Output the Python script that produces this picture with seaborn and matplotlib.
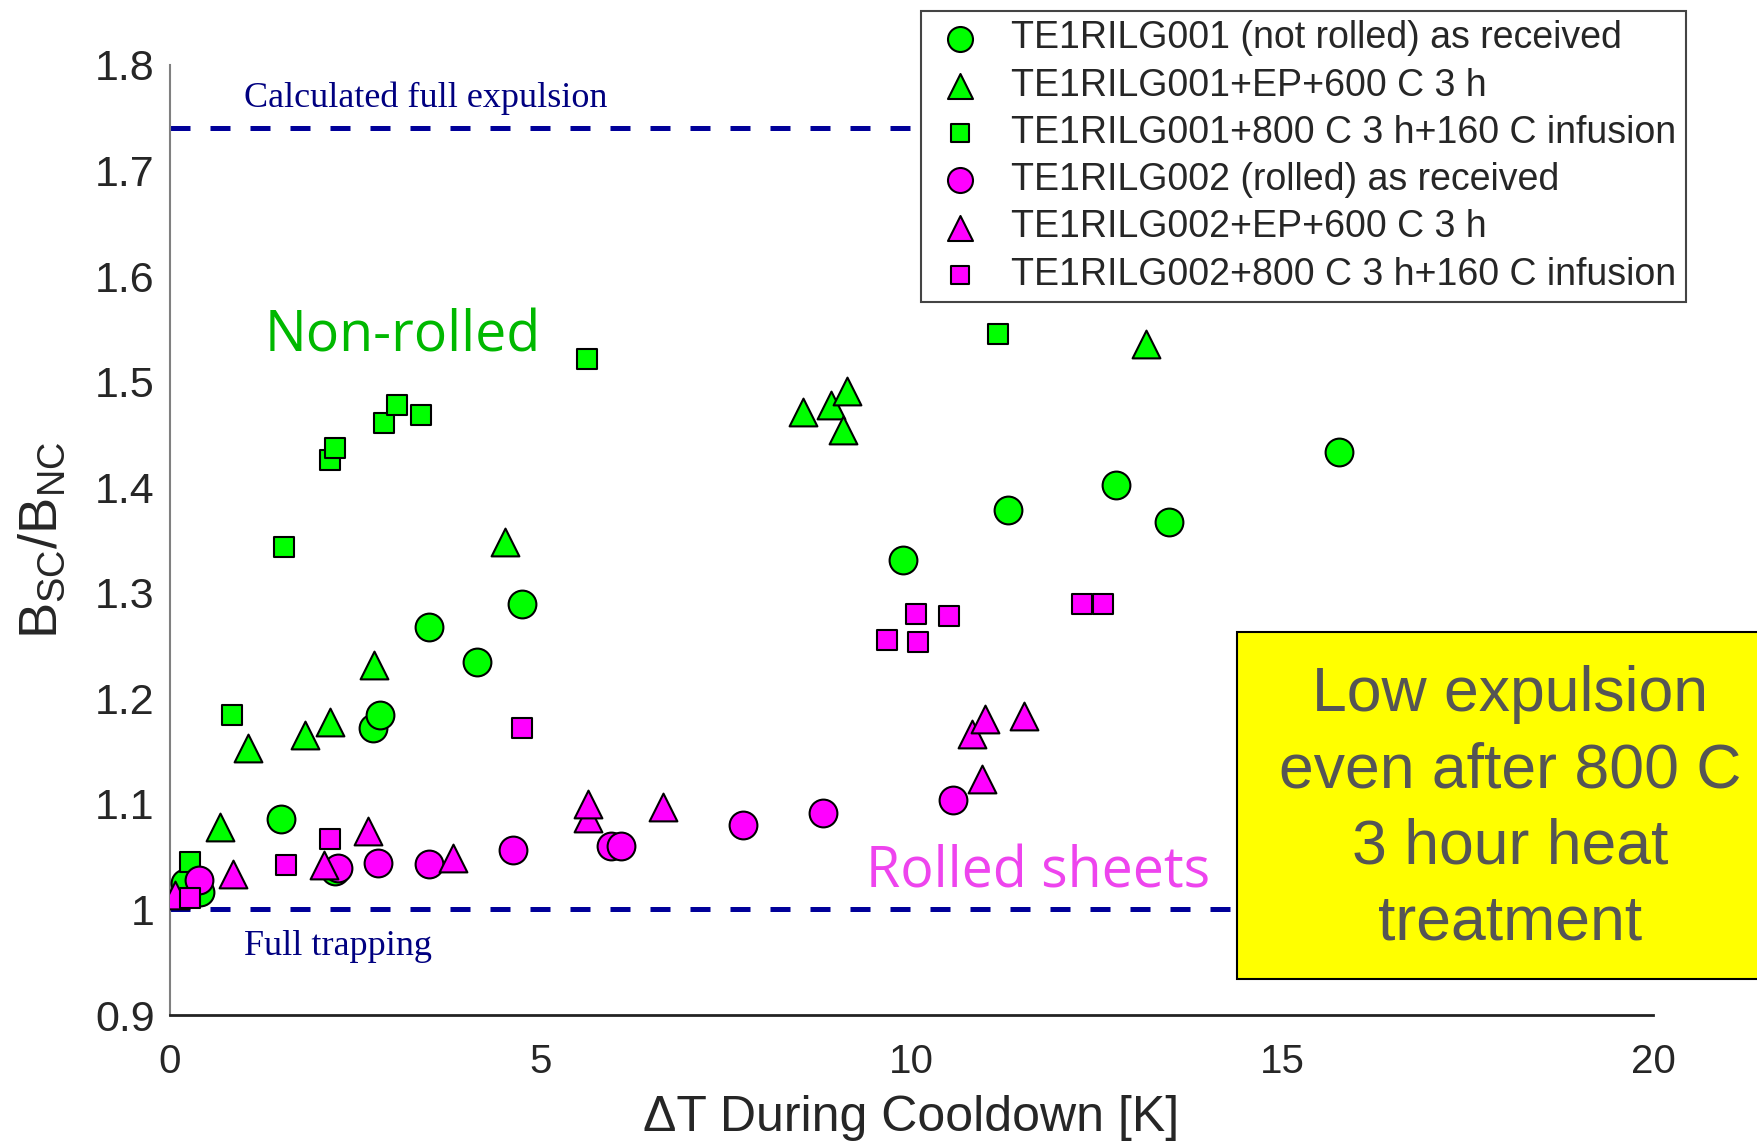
import matplotlib
matplotlib.use("Agg")
import matplotlib.pyplot as plt
import seaborn as sns
from matplotlib.patches import Rectangle

# --- data (dT [K], Bsc/Bnc) ---
g1_asrec_x = [0.2, 0.4, 1.49, 2.23, 2.73, 2.83, 3.49, 4.14, 4.74, 9.89, 11.3, 12.76, 13.47, 15.76]
g1_asrec_y = [1.025, 1.017, 1.086, 1.036, 1.172, 1.184, 1.268, 1.234, 1.289, 1.331, 1.378, 1.402, 1.367, 1.433]

g1_ep_x = [0.67, 1.05, 1.82, 2.16, 2.75, 4.52, 8.54, 8.91, 9.13, 9.08, 13.16]
g1_ep_y = [1.078, 1.153, 1.165, 1.178, 1.232, 1.348, 1.471, 1.478, 1.491, 1.454, 1.536]

g1_800_x = [0.27, 0.84, 1.53, 2.16, 2.23, 2.88, 3.06, 3.39, 5.62, 11.16]
g1_800_y = [1.045, 1.184, 1.343, 1.426, 1.437, 1.461, 1.478, 1.468, 1.521, 1.545]

g2_asrec_x = [0.39, 2.26, 2.80, 3.49, 4.62, 5.95, 6.08, 7.73, 8.80, 10.56]
g2_asrec_y = [1.028, 1.039, 1.044, 1.043, 1.056, 1.060, 1.060, 1.080, 1.091, 1.104]

g2_ep_x = [0.07, 0.855, 2.08, 2.67, 3.82, 5.63, 5.63, 6.65, 10.82, 10.99, 11.52, 10.95]
g2_ep_y = [1.014, 1.034, 1.042, 1.074, 1.049, 1.087, 1.100, 1.097, 1.166, 1.180, 1.183, 1.124]

g2_800_x = [0.27, 1.56, 2.16, 4.74, 9.67, 10.06, 10.08, 10.5, 12.30, 12.58]
g2_800_y = [1.011, 1.042, 1.067, 1.172, 1.255, 1.280, 1.253, 1.278, 1.289, 1.289]

labels = [
    "TE1RILG001 (not rolled) as received",
    "TE1RILG001+EP+600 C 3 h",
    "TE1RILG001+800 C 3 h+160 C infusion",
    "TE1RILG002 (rolled) as received",
    "TE1RILG002+EP+600 C 3 h",
    "TE1RILG002+800 C 3 h+160 C infusion",
]

yticks = [0.9, 1.0, 1.1, 1.2, 1.3, 1.4, 1.5, 1.6, 1.7, 1.8]
ytick_labels = ["0.9", "1", "1.1", "1.2", "1.3", "1.4", "1.5", "1.6", "1.7", "1.8"]
xticks = [0, 5, 10, 15, 20]

full_expulsion = 1.74
full_trapping = 1.0

# --- style ---
sns.set_style("white")
plt.rcParams["font.family"] = ["Liberation Sans", "DejaVu Sans"]
plt.rcParams["mathtext.default"] = "regular"

fig = plt.figure(figsize=(17.57, 11.42), dpi=100)
ax = fig.add_axes([0.0968, 0.1112, 0.8441, 0.8319])

green = "#00FF00"
magenta = "#FF00FF"
series = [
    (g1_asrec_x, g1_asrec_y, green, "o", 400),
    (g1_ep_x, g1_ep_y, green, "^", 400),
    (g1_800_x, g1_800_y, green, "s", 220),
    (g2_asrec_x, g2_asrec_y, magenta, "o", 400),
    (g2_ep_x, g2_ep_y, magenta, "^", 400),
    (g2_800_x, g2_800_y, magenta, "s", 220),
]

# dashed reference lines
ax.axhline(full_expulsion, color="#000099", lw=3.6, ls=(0, (4, 4)), zorder=1)
ax.axhline(full_trapping, color="#000099", lw=3.6, ls=(0, (4, 4)), zorder=1)

for (xs, ys, col, mk, sz), lab in zip(series, labels):
    sns.scatterplot(x=xs, y=ys, ax=ax, color=col, marker=mk, s=sz,
                    edgecolor="black", linewidth=1.5, label=lab, zorder=3)

ax.set_xlim(0, 20)
ax.set_ylim(0.9, 1.8)
ax.set_xticks(xticks)
ax.set_xticklabels([str(t) for t in xticks])
ax.set_yticks(yticks)
ax.set_yticklabels(ytick_labels)
ax.tick_params(axis="both", direction="in", length=13, width=1.2, colors="#555555",
               labelcolor="#262626")
ax.tick_params(axis="y", pad=11, labelsize=31)
ax.tick_params(axis="x", pad=20, labelsize=29)

for side in ["top", "right"]:
    ax.spines[side].set_visible(False)
ax.spines["left"].set_color("#808080")
ax.spines["left"].set_linewidth(1.5)
ax.spines["bottom"].set_color("#222222")
ax.spines["bottom"].set_linewidth(2)

ax.set_xlabel("ΔT During Cooldown [K]", fontsize=36, color="#262626", labelpad=10)
ax.set_ylabel(r"$B_{SC}/B_{NC}$", fontsize=39, color="#262626", labelpad=20)

# annotations
ax.text(244 / 1757, 1 - 107 / 1142, "Calculated full expulsion", transform=fig.transFigure,
        family="Liberation Serif", fontsize=26, color="#000080", va="baseline", ha="left")
ax.text(244 / 1757, 1 - 955 / 1142, "Full trapping", transform=fig.transFigure,
        family="Liberation Serif", fontsize=26, color="#000080", va="baseline", ha="left")
fig.text(265 / 1757, 1 - 351 / 1142, "Non-rolled", family="Open Sans", fontsize=40,
         color="#00B800", va="baseline", ha="left")
fig.text(866 / 1757, 1 - 887 / 1142, "Rolled sheets", family="Open Sans", fontsize=40,
         color="#EE44EE", va="baseline", ha="left")

# yellow note box
fig.patches.append(Rectangle((1237 / 1757, 1 - 979 / 1142), 0.31, 347 / 1142,
                             transform=fig.transFigure, facecolor="#FFFF00",
                             edgecolor="black", lw=1.5, zorder=4))
fig.text(1510 / 1757, 1 - 809 / 1142, "Low expulsion\neven after 800 C\n3 hour heat\ntreatment",
         fontsize=45, color="#555555", ha="center", va="center", linespacing=1.37, zorder=5)

leg = ax.legend(loc="upper left", bbox_to_anchor=(921 / 1757, 1 - 11 / 1142),
                bbox_transform=fig.transFigure, fontsize=27, frameon=True, fancybox=False,
                borderpad=0.25, labelspacing=0.3, handlelength=1.6, handletextpad=0.55,
                borderaxespad=0, markerscale=0.9)
leg.get_frame().set_edgecolor("#444444")
leg.get_frame().set_linewidth(1.5)
leg.get_frame().set_alpha(1)
leg.set_zorder(6)

fig.savefig("out.png", dpi=100)
